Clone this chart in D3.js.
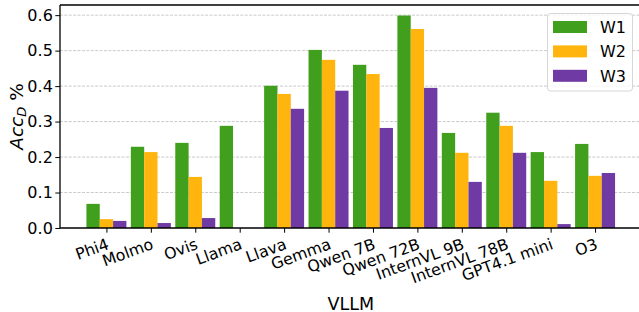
<!DOCTYPE html>
<html>
<head>
<meta charset="utf-8">
<script src="https://cdn.jsdelivr.net/npm/d3@7"></script>
<style>
  html, body { margin: 0; padding: 0; background: #fff; }
  svg { display: block; font-family: "DejaVu Sans", sans-serif; }
</style>
</head>
<body>
<svg id="chart" width="639" height="312"></svg>
<script>
const categories = ["Phi4", "Molmo", "Ovis", "Llama", "Llava", "Gemma", "Qwen 7B", "Qwen 72B", "InternVL 9B", "InternVL 78B", "GPT4.1 mini", "O3"];
const seriesNames = ["W1", "W2", "W3"];
const w1 = [0.068, 0.229, 0.240, 0.288, 0.401, 0.502, 0.460, 0.599, 0.268, 0.325, 0.214, 0.237];
const w2 = [0.025, 0.214, 0.144, 0.000, 0.378, 0.474, 0.434, 0.561, 0.212, 0.288, 0.133, 0.147];
const w3 = [0.020, 0.014, 0.028, 0.000, 0.336, 0.387, 0.282, 0.395, 0.130, 0.212, 0.011, 0.155];
const yTicks = [0.0, 0.1, 0.2, 0.3, 0.4, 0.5, 0.6];
const colors = ["#409f1c", "#ffb50d", "#6f3aa3"];

const series = [w1, w2, w3];
const svg = d3.select("#chart");
const pL = 60, pR = 641.5, pT = 5, pB = 228;
const barW = 0.3;

const x = d3.scaleLinear().domain([-1.045, categories.length - 1 + 1.045]).range([pL, pR]);
const y = d3.scaleLinear().domain([0, 0.6286]).range([pB, pT]);

// grid
svg.append("g").selectAll("line").data(yTicks.filter(d => d > 0)).join("line")
  .attr("x1", pL).attr("x2", pR)
  .attr("y1", d => y(d)).attr("y2", d => y(d))
  .attr("stroke", "#b0b0b0").attr("stroke-opacity", 0.75)
  .attr("stroke-width", 0.9).attr("stroke-dasharray", "3,1.4");

// bars
series.forEach((vals, s) => {
  svg.append("g").attr("fill", colors[s]).selectAll("rect").data(vals).join("rect")
    .attr("x", (d, i) => x(i + (s - 1) * barW - barW / 2))
    .attr("width", (d, i) => x(i + (s - 1) * barW + barW / 2) - x(i + (s - 1) * barW - barW / 2))
    .attr("y", d => y(d))
    .attr("height", d => pB - y(d));
});

// y axis
const yAxis = svg.append("g").attr("transform", `translate(${pL},0)`)
  .call(d3.axisLeft(y).tickValues(yTicks).tickFormat(d3.format(".1f")).tickSize(4.7).tickPadding(2.5));
yAxis.select(".domain").remove();
yAxis.selectAll("line").attr("stroke", "#000").attr("stroke-width", 1);
yAxis.selectAll("text").attr("font-size", 16).attr("fill", "#000")
  .attr("font-family", "DejaVu Sans");

// x axis
const xAxis = svg.append("g").attr("transform", `translate(0,${pB})`)
  .call(d3.axisBottom(x).tickValues(d3.range(categories.length)).tickFormat(i => categories[i]).tickSize(4.7));
xAxis.select(".domain").remove();
xAxis.selectAll("line").attr("stroke", "#000").attr("stroke-width", 1);
xAxis.selectAll("text")
  .attr("font-size", 15.8).attr("fill", "#000").attr("font-family", "DejaVu Sans")
  .attr("text-anchor", "end")
  .attr("y", 0).attr("dy", 0)
  .attr("transform", "translate(3,20.5) rotate(-20)");

// spines
[[pL, pL, pT, pB], [pL, pR, pB, pB], [pL, pR, pT, pT], [pR, pR, pT, pB]].forEach(c => {
  svg.append("line").attr("x1", c[0]).attr("x2", c[1]).attr("y1", c[2]).attr("y2", c[3])
    .attr("stroke", "#000").attr("stroke-width", 1.3);
});

// axis labels
svg.append("text").attr("x", (pL + pR) / 2).attr("y", 309.5)
  .attr("text-anchor", "middle").attr("font-size", 17.5).attr("fill", "#000").text("VLLM");

const yl = svg.append("text").attr("transform", `translate(22.7,${(pT + pB) / 2}) rotate(-90)`)
  .attr("text-anchor", "middle").attr("font-size", 18.5).attr("fill", "#000");
yl.append("tspan").attr("font-style", "italic").text("Acc");
yl.append("tspan").attr("font-style", "italic").attr("font-size", 13).attr("dy", 3.5).text("D");
yl.append("tspan").attr("dy", -3.5).text(" %");

// legend
const lg = svg.append("g");
lg.append("rect").attr("x", 547.5).attr("y", 13.5).attr("width", 85).attr("height", 77.5)
  .attr("rx", 3).attr("fill", "#fff").attr("fill-opacity", 0.8)
  .attr("stroke", "#d6d6d6").attr("stroke-width", 1);
seriesNames.forEach((n, i) => {
  const cy = 27 + i * 24.4;
  lg.append("rect").attr("x", 553).attr("y", cy - 6).attr("width", 34).attr("height", 12).attr("fill", colors[i]);
  lg.append("text").attr("x", 600).attr("y", cy + 5.8).attr("font-size", 16).attr("fill", "#000").text(n);
});
</script>
</body>
</html>
